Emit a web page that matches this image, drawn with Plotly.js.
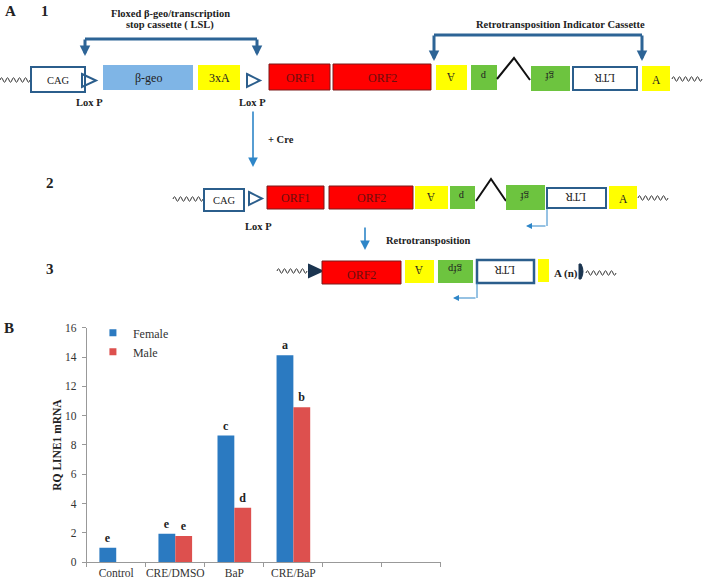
<!DOCTYPE html>
<html>
<head>
<meta charset="utf-8">
<script src="https://cdn.plot.ly/plotly-3.0.1.min.js"></script>
<style>html,body{margin:0;padding:0;background:#fff;}#chart{width:704px;height:583px;}</style>
</head>
<body>
<div id="chart"></div>
<script>
// ---- Panel B data ----
const categories = ['Control', 'CRE/DMSO', 'BaP', 'CRE/BaP', ' ', '  '];
const female = [1.0, 1.95, 8.64, 14.12, null, null];
const male = [null, 1.79, 3.72, 10.57, null, null];
const femaleLetters = ['e', 'e', 'c', 'a', '', ''];
const maleLetters = ['', 'e', 'd', 'b', '', ''];
const seriesNames = ['Female', 'Male'];
const yTicks = [0, 2, 4, 6, 8, 10, 12, 14, 16];

const W = 704, H = 583;
const SERIF = 'Liberation Serif, Times New Roman, serif';
const BLUE = '#2B7AC1', RED = '#DD504E';
const DARK = '#2B5E8C', BRK = '#2D6496', ARW = '#2E86C8';
const YEL = '#FFFF00', GRN = '#6DC43F', RBOX = '#FF0000', LBLUE = '#7FB5E6';

const traces = [
  {type: 'bar', name: seriesNames[0], x: categories, y: female, marker: {color: BLUE},
   text: femaleLetters, textposition: 'outside', cliponaxis: false,
   textfont: {family: SERIF, size: 12, color: '#222', weight: 'bold'}, showlegend: false, hoverinfo: 'skip'},
  {type: 'bar', name: seriesNames[1], x: categories, y: male, marker: {color: RED},
   text: maleLetters, textposition: 'outside', cliponaxis: false,
   textfont: {family: SERIF, size: 12, color: '#222', weight: 'bold'}, showlegend: false, hoverinfo: 'skip'},
  {type: 'scatter', mode: 'markers', name: seriesNames[0], x: [null], y: [null],
   marker: {symbol: 'square', size: 7, color: BLUE}},
  {type: 'scatter', mode: 'markers', name: seriesNames[1], x: [null], y: [null],
   marker: {symbol: 'square', size: 7, color: RED}},
  {type: 'scatter', x: [], y: [], xaxis: 'x2', yaxis: 'y2', showlegend: false, hoverinfo: 'skip'}
];

// ---- schematic helpers (pixel coords on overlay axes x2/y2) ----
const shapes = [];
const annotations = [];
function box(x0, y0, x1, y1, fill, lc, lw) {
  shapes.push({type: 'rect', xref: 'x2', yref: 'y2', x0, y0, x1, y1, fillcolor: fill,
    line: {color: lc || fill, width: lw === undefined ? 0 : lw}});
}
function path(d, lc, lw, fill) {
  shapes.push({type: 'path', xref: 'x2', yref: 'y2', path: d,
    line: {color: lc, width: lw}, fillcolor: fill || 'rgba(0,0,0,0)'});
}
function line(x0, y0, x1, y1, lc, lw) {
  shapes.push({type: 'line', xref: 'x2', yref: 'y2', x0, y0, x1, y1, line: {color: lc, width: lw}});
}
function txt(t, x, y, size, opts) {
  opts = opts || {};
  annotations.push(Object.assign({xref: 'x2', yref: 'y2', x, y, text: t, showarrow: false,
    xanchor: 'center', yanchor: 'middle',
    font: {family: SERIF, size, color: opts.color || '#222', weight: opts.bold ? 'bold' : 'normal'}},
    opts.angle ? {textangle: opts.angle} : {}));
}
function arrow(x0, y0, x1, y1, color, w, size) {
  annotations.push({xref: 'x2', yref: 'y2', axref: 'x2', ayref: 'y2', x: x1, y: y1, ax: x0, ay: y0,
    text: '', showarrow: true, arrowhead: 2, arrowsize: size || 1, arrowwidth: w, arrowcolor: color, standoff: 0, startstandoff: 0});
}
function wave(x0, x1, y, amp, per) {
  amp = amp || 2.2; per = per || 6;
  let d = `M${x0},${y}`; let x = x0; let up = true;
  while (x + per / 2 <= x1 + 0.01) {
    d += ` Q${x + per / 4},${y + (up ? -2 * amp : 2 * amp)} ${x + per / 2},${y}`;
    x += per / 2; up = !up;
  }
  path(d, '#333', 1);
}
function tri(x0, y0, x1, y1, lc, fill) {
  path(`M${x0},${y0} L${x1},${(y0 + y1) / 2} L${x0},${y1} Z`, lc, 2, fill);
}

// Panel labels
txt('A', 10, 11, 15, {bold: true});
txt('1', 45, 11, 15, {bold: true});
txt('2', 50, 183, 15, {bold: true});
txt('3', 50, 269, 15, {bold: true});
txt('B', 9, 328, 15, {bold: true});

// Row 1
txt('Floxed β-geo/transcription', 170, 13, 10.5, {bold: true});
txt('stop cassette ( LSL)', 170, 25, 10.5, {bold: true});
line(85, 39, 257, 39, BRK, 3);
arrow(85, 38, 85, 56, BRK, 3, 0.7);
arrow(257, 38, 257, 56, BRK, 3, 0.7);
txt('Retrotransposition Indicator Cassette', 560, 24, 10.5, {bold: true});
line(434, 35, 642, 35, BRK, 3);
arrow(434, 34, 434, 61, BRK, 3, 0.7);
arrow(642, 34, 642, 61, BRK, 3, 0.7);

wave(0, 30, 80);
box(31, 67, 85, 92, '#fff', DARK, 2); txt('CAG', 58, 80, 10.5);
tri(82, 74, 96, 87, DARK);
txt('Lox P', 89, 102, 10.5, {bold: true});
box(103, 65, 193, 90, LBLUE); txt('β-geo', 148, 78, 12);
box(198, 65, 240, 90, YEL); txt('3xA', 219, 78, 12);
tri(247, 74, 260, 87, DARK);
txt('Lox P', 252, 102, 10.5, {bold: true});
box(269, 64, 330, 90, RBOX, '#7a1a1a', 1); txt('ORF1', 300, 78, 12, {color: '#6B0F0F'});
box(333, 64, 431, 90, RBOX, '#7a1a1a', 1); txt('ORF2', 382, 78, 12, {color: '#6B0F0F'});
box(436, 65, 467, 90, YEL); txt('A', 451, 77, 11.5, {angle: 180});
box(471, 65, 497, 90, GRN); txt('p', 484, 77, 10.5, {angle: 180});
path('M497,79 L514,58 L530,80', '#111', 2);
box(531, 66, 570, 91, GRN); txt('gf', 550, 77, 10.5, {angle: 180});
box(573, 67, 637, 90, '#fff', DARK, 2); txt('LTR', 605, 78, 11.5, {angle: 180});
box(642, 66, 670, 91, YEL); txt('A', 656, 80, 11.5);
wave(672, 704, 79);

// Cre arrow
arrow(253, 110, 253, 167, ARW, 1.6, 1.2);
txt('+ Cre', 281, 139, 10.5, {bold: true});

// Row 2
wave(173, 203, 199);
box(204, 189, 244, 211, '#fff', DARK, 2); txt('CAG', 224, 200, 10.5);
tri(249, 192, 262, 205, DARK);
txt('Lox P', 258, 226, 10.5, {bold: true});
box(267, 186, 324, 209, RBOX, '#7a1a1a', 1); txt('ORF1', 295, 198, 12, {color: '#6B0F0F'});
box(329, 186, 413, 209, RBOX, '#7a1a1a', 1); txt('ORF2', 371, 198, 12, {color: '#6B0F0F'});
box(415, 186, 448, 209, YEL); txt('A', 431, 197, 11.5, {angle: 180});
box(450, 186, 475, 209, GRN); txt('p', 462, 197, 10.5, {angle: 180});
path('M476,201 L491,179 L506,201', '#111', 2);
box(506, 185, 545, 210, GRN); txt('gf', 525, 197, 10.5, {angle: 180});
box(547, 188, 606, 208, '#fff', DARK, 2); txt('LTR', 576, 197, 11.5, {angle: 180});
box(609, 186, 637, 209, YEL); txt('A', 623, 199, 11.5);
wave(638, 668, 198);
line(547, 209, 547, 226, ARW, 1);
arrow(547, 226, 526, 226, ARW, 1.2, 1);

// Retrotransposition arrow
arrow(365, 226, 365, 250, ARW, 1.6, 1.2);
txt('Retrotransposition', 428, 240, 10.5, {bold: true});

// Row 3
wave(277, 309, 271);
tri(309, 265, 322, 277, '#1B3550', '#1B3550');
box(322, 261, 401, 284, RBOX, '#7a1a1a', 1); txt('ORF2', 361, 275, 12, {color: '#6B0F0F'});
box(405, 260, 434, 283, YEL); txt('A', 419, 270, 11.5, {angle: 180});
box(438, 260, 473, 283, GRN); txt('gfp', 455, 270, 10.5, {angle: 180});
box(477, 260, 534, 283, '#fff', DARK, 2.5); txt('LTR', 505, 270, 11.5, {angle: 180});
box(538, 259, 549, 282, YEL);
txt('A (n)', 566, 273, 11, {bold: true});
path('M579,264 L581,264 Q585,271.5 581,279 L579,279 Z', '#1B3550', 1, '#1B3550');
wave(586, 617, 273);
line(477, 283, 477, 298, ARW, 1);
arrow(477, 298, 453, 298, ARW, 1.2, 1);

const layout = {
  width: W, height: H,
  margin: {l: 0, r: 0, t: 0, b: 0},
  paper_bgcolor: '#fff', plot_bgcolor: 'rgba(0,0,0,0)',
  font: {family: SERIF, color: '#333'},
  barmode: 'group', bargap: 0.43, bargroupgap: 0,
  xaxis: {domain: [0.12315, 0.62642], range: [-0.5, 5.5], type: 'category',
    showline: true, linecolor: '#999', linewidth: 1, tickson: 'boundaries', ticks: 'outside',
    ticklen: 4, tickcolor: '#999', showgrid: false, zeroline: false, tickangle: 0,
    tickfont: {family: SERIF, size: 11.5, color: '#333'}},
  yaxis: {domain: [0.03551, 0.43791], range: [0, 16], tickvals: yTicks,
    showline: true, linecolor: '#999', linewidth: 1, ticks: 'outside', ticklen: 4, tickcolor: '#999',
    showgrid: false, zeroline: false, ticklabelstandoff: 3,
    tickfont: {family: SERIF, size: 11.5, color: '#333'},
    title: {text: 'RQ LINE1 mRNA', standoff: 0, font: {family: SERIF, size: 11.5, color: '#222', weight: 'bold'}}},
  xaxis2: {domain: [0, 1], range: [0, W], visible: false, anchor: 'y2', fixedrange: true},
  yaxis2: {domain: [0, 1], range: [H, 0], visible: false, anchor: 'x2', fixedrange: true},
  legend: {x: 0.132, y: 0.454, xanchor: 'left', yanchor: 'top', bgcolor: 'rgba(0,0,0,0)',
    font: {family: SERIF, size: 12, color: '#333'}, tracegroupgap: 0},
  showlegend: true,
  shapes, annotations
};

Plotly.newPlot('chart', traces, layout, {displayModeBar: false, staticPlot: true});
</script>
</body>
</html>
